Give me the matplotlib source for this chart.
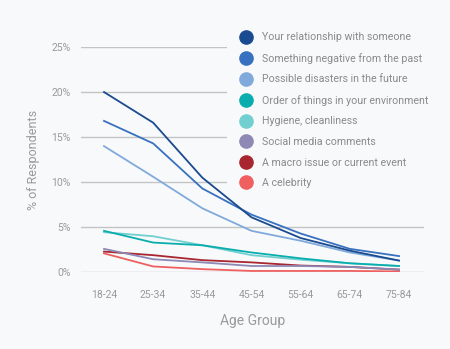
import matplotlib
matplotlib.use("Agg")
import matplotlib.pyplot as plt
from matplotlib.lines import Line2D

plt.rcParams['font.family'] = ['Roboto', 'DejaVu Sans']

age_groups = ["18-24", "25-34", "35-44", "45-54", "55-64", "65-74", "75-84"]

series_names = [
    "Your relationship with someone",
    "Something negative from the past",
    "Possible disasters in the future",
    "Order of things in your environment",
    "Hygiene, cleanliness",
    "Social media comments",
    "A macro issue or current event",
    "A celebrity",
]

relationship = [20.0, 16.6, 10.5, 6.1, 3.8, 2.4, 1.3]
negative_past = [16.8, 14.3, 9.3, 6.4, 4.3, 2.6, 1.8]
future_disasters = [14.0, 10.6, 7.1, 4.6, 3.5, 2.2, 1.3]
order_of_things = [4.6, 3.3, 3.0, 2.2, 1.55, 1.0, 0.7]
hygiene = [4.45, 4.0, 3.0, 1.9, 1.4, 1.0, 0.7]
social_media = [2.6, 1.45, 1.1, 0.7, 0.7, 0.6, 0.3]
macro_issue = [2.3, 1.9, 1.35, 1.1, 0.75, 0.6, 0.3]
celebrity = [2.1, 0.65, 0.35, 0.15, 0.15, 0.15, 0.1]

colors = ["#1a4a8f", "#3871bf", "#80aadc", "#0aadad", "#72cfcf",
          "#8e88b5", "#a8262f", "#ef5f5f"]

y_ticks = [0, 5, 10, 15, 20, 25]
y_tick_labels = ["0%", "5%", "10%", "15%", "20%", "25%"]

bg = "#f8f9fa"
text_gray = "#9a9a9a"

fig = plt.figure(figsize=(4.5, 3.49), dpi=100, facecolor=bg)
ax = fig.add_axes([81 / 450, 76.7 / 349, 343 / 450, 225.3 / 349], facecolor=bg)

all_series = [relationship, negative_past, future_disasters, order_of_things,
              hygiene, social_media, macro_issue, celebrity]
x = list(range(len(age_groups)))
# draw from the back so the top series sit above the small ones
for vals, col, name in reversed(list(zip(all_series, colors, series_names))):
    ax.plot(x, vals, color=col, lw=1.3, label=name, solid_joinstyle="miter")

ax.set_ylim(0, 25)
ax.set_xlim(-0.468, 6.508)
ax.set_yticks(y_ticks)
ax.set_yticklabels(y_tick_labels)
ax.set_xticks(x)
ax.set_xticklabels(age_groups)
ax.tick_params(axis="both", length=0, labelsize=7.5, labelcolor=text_gray)
ax.tick_params(axis="y", pad=7.5)
ax.tick_params(axis="x", pad=13)
for s in ax.spines.values():
    s.set_visible(False)
ax.grid(axis="y", color="#c4c4c4", lw=1.0)
ax.set_axisbelow(True)

ax.set_ylabel("% of Respondents", fontsize=9, color=text_gray, labelpad=8)
ax.set_xlabel("Age Group", fontsize=10, color=text_gray, labelpad=10)

handles = [Line2D([], [], marker="o", ls="none", markersize=9.5,
                  markerfacecolor=c, markeredgecolor=c) for c in colors]
leg = fig.legend(handles, series_names, loc="upper left",
                 bbox_to_anchor=(227 / 450, 1 - 28 / 349),
                 frameon=True, facecolor=bg, edgecolor=bg, framealpha=1,
                 fontsize=7.7, labelcolor="#8a8a8a", handlelength=2.75,
                 handletextpad=0.13, borderpad=0.4, labelspacing=0.99,
                 borderaxespad=0, fancybox=False)
leg.get_frame().set_linewidth(0)

fig.savefig("out.png", dpi=100, facecolor=bg)
